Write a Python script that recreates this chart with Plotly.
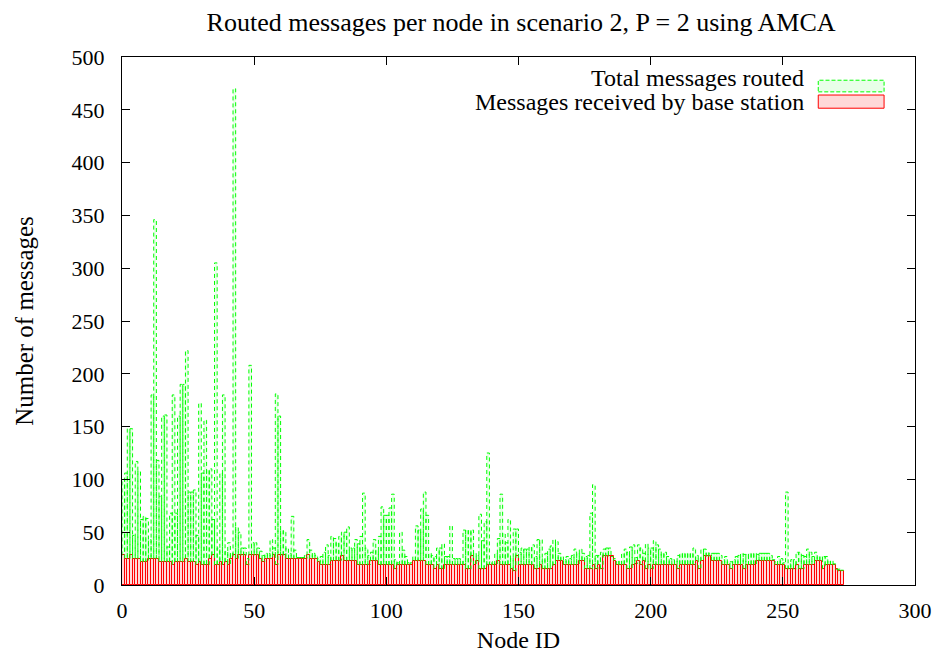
import plotly.graph_objects as go

# Node identifiers and per-node message counts
node_ids = list(range(273))

total_routed = [
    100, 106, 148, 148, 47, 117, 108, 62, 65, 63,
    43, 180, 346, 118, 84, 160, 161, 36, 68, 180,
    68, 160, 190, 190, 222, 88, 88, 90, 47, 172,
    106, 156, 109, 110, 62, 305, 35, 106, 180, 32,
    40, 30, 470, 55, 50, 35, 35, 25, 208, 40,
    40, 35, 32, 28, 30, 30, 43, 35, 181, 160,
    52, 51, 35, 30, 65, 33, 26, 26, 26, 28,
    43, 33, 30, 28, 25, 27, 31, 38, 28, 46,
    44, 40, 46, 50, 50, 55, 35, 35, 43, 39,
    46, 87, 35, 28, 31, 43, 33, 46, 74, 66,
    66, 73, 86, 24, 21, 50, 33, 27, 21, 21,
    27, 56, 52, 72, 88, 66, 30, 28, 27, 35,
    35, 39, 27, 27, 56, 25, 25, 25, 23, 52,
    52, 52, 52, 30, 28, 67, 42, 60, 125, 22,
    22, 30, 44, 86, 49, 40, 62, 26, 53, 53,
    31, 35, 34, 34, 36, 38, 27, 43, 43, 25,
    30, 34, 37, 43, 41, 30, 27, 24, 27, 25,
    28, 34, 30, 34, 30, 27, 28, 68, 95, 28,
    28, 31, 34, 35, 35, 27, 25, 23, 23, 30,
    34, 31, 36, 38, 26, 38, 35, 30, 39, 35,
    35, 42, 38, 34, 30, 31, 27, 25, 24, 23,
    28, 30, 30, 30, 30, 30, 35, 28, 26, 34,
    34, 31, 30, 30, 30, 30, 28, 24, 27, 22,
    22, 24, 27, 28, 30, 29, 29, 30, 30, 30,
    29, 30, 30, 30, 30, 28, 24, 22, 27, 25,
    21, 88, 20, 24, 24, 31, 31, 28, 27, 34,
    31, 27, 31, 27, 27, 27, 27, 23, 23, 20,
    15, 15, 14,
]

received_bs = [
    28, 25, 25, 28, 25, 25, 25, 22, 22, 22,
    25, 25, 25, 25, 22, 22, 22, 22, 22, 19,
    22, 22, 22, 22, 25, 22, 22, 22, 19, 22,
    19, 19, 19, 25, 28, 19, 19, 22, 19, 22,
    19, 25, 28, 25, 28, 28, 28, 19, 28, 28,
    28, 28, 25, 22, 25, 25, 25, 28, 19, 28,
    28, 28, 25, 25, 25, 25, 25, 25, 25, 25,
    28, 25, 25, 25, 22, 19, 19, 19, 19, 23,
    23, 23, 23, 27, 23, 23, 23, 23, 23, 19,
    19, 19, 19, 19, 23, 23, 23, 19, 19, 19,
    19, 19, 19, 15, 19, 19, 19, 19, 19, 19,
    23, 23, 23, 23, 23, 19, 19, 19, 15, 19,
    15, 15, 19, 19, 19, 19, 19, 19, 19, 19,
    15, 15, 27, 19, 23, 15, 15, 15, 19, 19,
    19, 19, 23, 19, 19, 19, 19, 15, 13, 27,
    19, 19, 19, 19, 19, 19, 15, 15, 19, 15,
    15, 15, 15, 19, 23, 23, 23, 19, 19, 19,
    19, 19, 19, 23, 23, 15, 15, 15, 19, 15,
    19, 15, 27, 27, 27, 27, 23, 19, 19, 19,
    19, 15, 15, 19, 20, 23, 19, 23, 15, 19,
    15, 19, 19, 19, 19, 19, 19, 19, 19, 19,
    15, 19, 19, 19, 19, 19, 19, 23, 15, 23,
    27, 27, 27, 23, 23, 23, 23, 19, 19, 19,
    15, 19, 19, 19, 19, 15, 19, 19, 19, 19,
    23, 23, 23, 23, 23, 23, 23, 19, 19, 19,
    19, 15, 15, 15, 15, 19, 15, 15, 19, 19,
    19, 19, 23, 23, 23, 15, 19, 19, 19, 19,
    15, 13, 13,
]

x_ticks = [0, 50, 100, 150, 200, 250, 300]
y_ticks = [0, 50, 100, 150, 200, 250, 300, 350, 400, 450, 500]

title_text = "Routed messages per node in scenario 2, P = 2 using AMCA"
x_title = "Node ID"
y_title = "Number of messages"
legend_labels = ["Total messages routed", "Messages received by base station"]

SERIF = "Liberation Serif, Times New Roman, serif"
GREEN = "#00ff00"
GREEN_FILL = "#e8ffe8"
RED = "#ff0000"
RED_FILL = "#ffd8d8"

# Dashed outlines for the total-routed boxes (each box drawn from the top of
# the base-station box up to its own height, so the red boxes stay on top).
outline_x, outline_y = [], []
for n, g, r in zip(node_ids, total_routed, received_bs):
    outline_x += [n, n, n + 1, n + 1, None]
    outline_y += [r, g, g, r, None]

fig = go.Figure()

fig.add_trace(go.Bar(
    x=node_ids, y=total_routed, width=1, offset=0,
    marker=dict(color=GREEN_FILL, line=dict(width=0)),
    name=legend_labels[0], showlegend=False,
))
fig.add_trace(go.Bar(
    x=node_ids, y=received_bs, width=1, offset=0,
    marker=dict(color=RED_FILL, line=dict(color=RED, width=1)),
    name=legend_labels[1], showlegend=False,
))
fig.add_trace(go.Scatter(
    x=outline_x, y=outline_y, mode="lines",
    line=dict(color=GREEN, width=1, dash="4px,3px"),
    hoverinfo="skip", showlegend=False,
))

# Key in the upper-right corner: label on the left, sample box on the right
key_rows = [
    dict(label=legend_labels[0], y0=0.934, y1=0.956, ty=0.960,
         line=dict(color=GREEN, width=1, dash="4px,2px"), fill=GREEN_FILL),
    dict(label=legend_labels[1], y0=0.903, y1=0.928, ty=0.915,
         line=dict(color=RED, width=1), fill=RED_FILL),
]
for row in key_rows:
    fig.add_shape(type="rect", xref="paper", yref="paper",
                  x0=0.878, x1=0.961, y0=row["y0"], y1=row["y1"],
                  line=row["line"], fillcolor=row["fill"])
    fig.add_annotation(xref="paper", yref="paper", x=0.863, y=row["ty"],
                       text=row["label"], showarrow=False,
                       xanchor="right", yanchor="middle",
                       font=dict(family=SERIF, size=24, color="black"))

axis_common = dict(
    showgrid=False, zeroline=False, showline=True, linecolor="black",
    linewidth=1, mirror="ticks", ticks="inside", ticklen=8,
    tickcolor="black", tickfont=dict(family=SERIF, size=22, color="black"),
)

fig.update_layout(
    width=944, height=660,
    margin=dict(l=122, r=24, t=57, b=75),
    paper_bgcolor="white", plot_bgcolor="white",
    barmode="overlay", bargap=0,
    title=dict(text=title_text, x=0.552, xanchor="center", y=0.967,
               yanchor="middle",
               font=dict(family=SERIF, size=26, color="black")),
    xaxis=dict(range=[0, 300], tickvals=x_ticks, ticklabelstandoff=6,
               title=dict(text=x_title, standoff=8,
                          font=dict(family=SERIF, size=24, color="black")),
               **axis_common),
    yaxis=dict(range=[0, 500], tickvals=y_ticks, ticklabelstandoff=12,
               title=dict(text=y_title, standoff=30,
                          font=dict(family=SERIF, size=25, color="black")),
               **axis_common),
)

fig.write_html("out.html")
